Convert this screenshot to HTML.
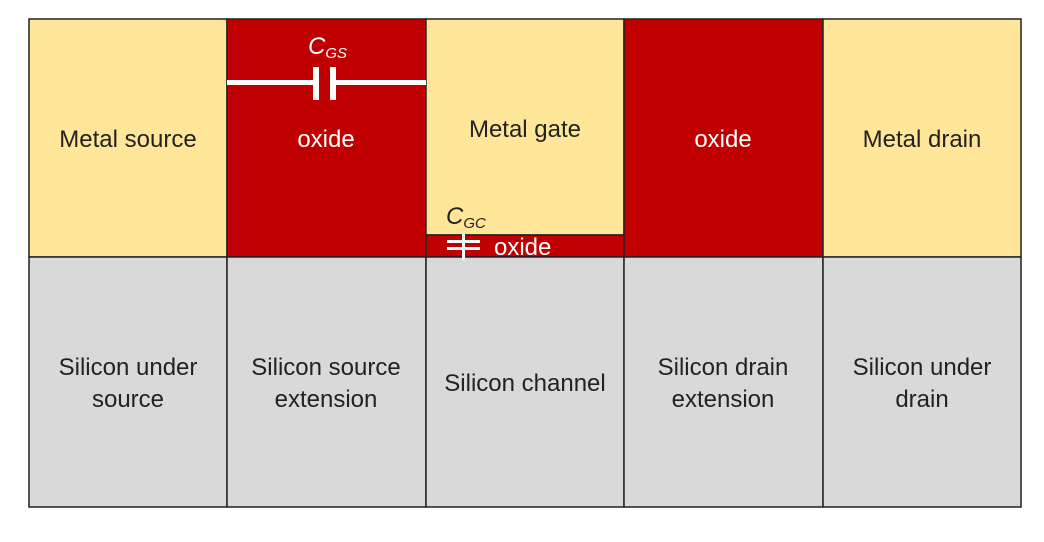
<!DOCTYPE html>
<html><head><style>
html,body{margin:0;padding:0;background:#fff;width:1044px;height:542px;overflow:hidden}
text{font-family:"Liberation Sans","DejaVu Sans",sans-serif;font-size:24px}
</style></head><body>
<svg width="1044" height="542" xmlns="http://www.w3.org/2000/svg">
<g stroke="#222" stroke-width="1.5">
<rect x="29" y="19" width="198" height="238" fill="#FFE699"/>
<rect x="227" y="19" width="199" height="238" fill="#C00000"/>
<rect x="426" y="19" width="198" height="216" fill="#FFE699"/>
<rect x="426" y="235" width="198" height="22" fill="#C00000"/>
<rect x="624" y="19" width="199" height="238" fill="#C00000"/>
<rect x="823" y="19" width="198" height="238" fill="#FFE699"/>
<rect x="29" y="257" width="198" height="250" fill="#D9D9D9"/>
<rect x="227" y="257" width="199" height="250" fill="#D9D9D9"/>
<rect x="426" y="257" width="198" height="250" fill="#D9D9D9"/>
<rect x="624" y="257" width="199" height="250" fill="#D9D9D9"/>
<rect x="823" y="257" width="198" height="250" fill="#D9D9D9"/>
</g>
<g fill="#fff">
<rect x="227" y="80" width="89" height="5"/>
<rect x="332" y="80" width="94" height="5"/>
<rect x="313" y="67" width="6" height="33"/>
<rect x="330" y="67" width="6" height="33"/>
<rect x="447" y="240" width="33" height="3"/>
<rect x="447" y="247" width="33" height="3"/>
<rect x="462" y="234" width="3" height="26"/>
</g>
<g text-anchor="middle" fill="#222">
<text x="128" y="147">Metal source</text>
<text x="525" y="137">Metal gate</text>
<text x="922" y="147">Metal drain</text>
<text x="128" y="375">Silicon under</text><text x="128" y="407">source</text>
<text x="326" y="375">Silicon source</text><text x="326" y="407">extension</text>
<text x="525" y="391">Silicon channel</text>
<text x="723" y="375">Silicon drain</text><text x="723" y="407">extension</text>
<text x="922" y="375">Silicon under</text><text x="922" y="407">drain</text>
</g>
<g fill="#fff">
<text x="326" y="147" text-anchor="middle">oxide</text>
<text x="723" y="147" text-anchor="middle">oxide</text>
<text x="494" y="255">oxide</text>
<text x="308" y="54" font-style="italic">C<tspan font-size="15" dy="4">GS</tspan></text>
</g>
<text x="446" y="224" font-style="italic" fill="#222">C<tspan font-size="15" dy="4">GC</tspan></text>
</svg>
</body></html>
